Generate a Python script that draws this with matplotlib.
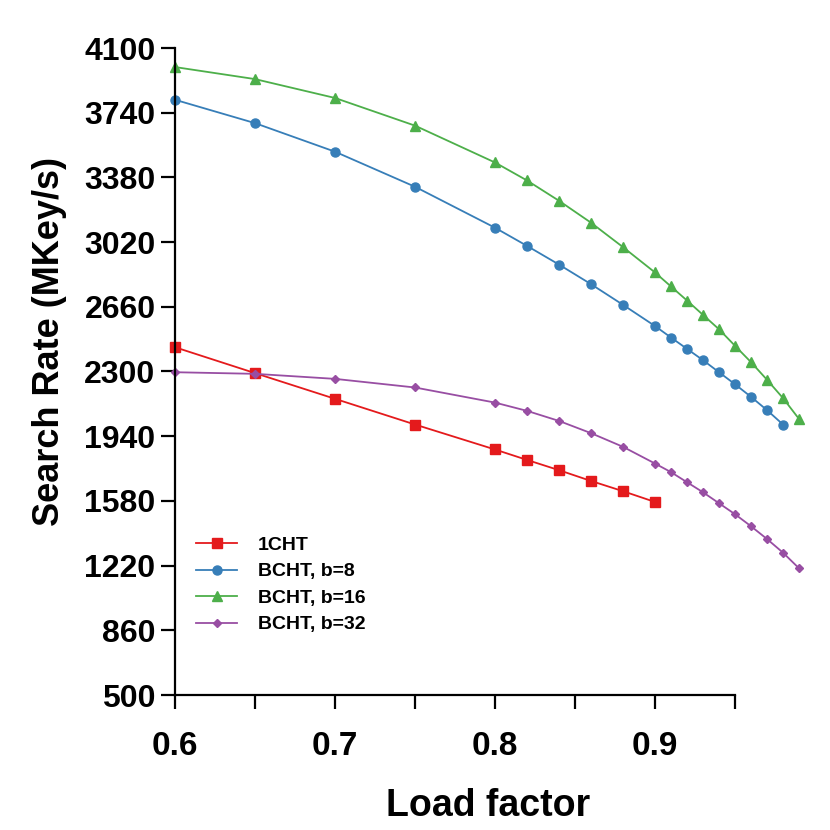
import matplotlib
matplotlib.use("Agg")
import matplotlib.pyplot as plt

plt.rcParams['font.family'] = ['Liberation Sans', 'DejaVu Sans']
plt.rcParams['font.weight'] = 'bold'

x_short = [0.6, 0.65, 0.7, 0.75, 0.8, 0.82, 0.84, 0.86, 0.88, 0.9]
x_b8 = x_short + [0.91, 0.92, 0.93, 0.94, 0.95, 0.96, 0.97, 0.98]
x_long = x_b8 + [0.99]

y_1cht = [2435, 2291, 2148, 2005, 1866, 1808, 1751, 1691, 1634, 1574]
y_b8 = [3812, 3682, 3523, 3328, 3100, 2999, 2895, 2786, 2671, 2553,
        2489, 2426, 2363, 2296, 2229, 2159, 2085, 2005]
y_b16 = [3994, 3927, 3822, 3668, 3463, 3363, 3250, 3128, 2992, 2851,
         2773, 2695, 2615, 2535, 2443, 2352, 2254, 2152, 2036]
y_b32 = [2296, 2287, 2259, 2211, 2127, 2081, 2025, 1957, 1881, 1788,
         1740, 1684, 1628, 1567, 1506, 1439, 1368, 1292, 1205]

labels = ['1CHT', 'BCHT, b=8', 'BCHT, b=16', 'BCHT, b=32']
colors = ['#e41a1c', '#377eb8', '#4daf4a', '#984ea3']

yticks = [500, 860, 1220, 1580, 1940, 2300, 2660, 3020, 3380, 3740, 4100]
xticks = [0.6, 0.65, 0.7, 0.75, 0.8, 0.85, 0.9, 0.95]
xticklabels = ['0.6', '', '0.7', '', '0.8', '', '0.9', '']

fig = plt.figure(figsize=(8.3, 8.3), dpi=100)
ax = fig.add_axes([175/830, 1-695/830, 640/830, (695-48)/830])

ax.plot(x_short, y_1cht, color=colors[0], marker='s', ms=6.5, lw=1.3, label=labels[0], clip_on=False)
ax.plot(x_b8, y_b8, color=colors[1], marker='o', ms=6.5, lw=1.3, label=labels[1], clip_on=False)
ax.plot(x_long, y_b16, color=colors[2], marker='^', ms=7.5, lw=1.3, label=labels[2], clip_on=False)
ax.plot(x_long, y_b32, color=colors[3], marker='D', ms=4, lw=1.3, label=labels[3], clip_on=False)

ax.set_xlim(0.6, 1.0)
ax.set_ylim(500, 4100)
ax.set_yticks(yticks)
ax.set_xticks(xticks)
ax.set_xticklabels(xticklabels)
ax.spines['top'].set_visible(False)
ax.spines['right'].set_visible(False)
ax.spines['bottom'].set_bounds(0.6, 0.95)
for s in ['left', 'bottom']:
    ax.spines[s].set_linewidth(1.6)
ax.tick_params(axis='both', length=10, width=1.6, direction='out')
ax.tick_params(axis='y', labelsize=23, pad=4)
ax.tick_params(axis='x', labelsize=24, pad=16)
for t in ax.get_xticklabels() + ax.get_yticklabels():
    t.set_fontweight('bold')

ax.set_ylabel('Search Rate (MKey/s)', fontsize=26, fontweight='bold')
ax.yaxis.set_label_coords(-0.169, 0.5456)
ax.set_xlabel('Load factor', fontsize=27, fontweight='bold')
ax.xaxis.set_label_coords(0.49, -0.1437)

leg = ax.legend(loc='upper left', bbox_to_anchor=(0.033, 0.2455), frameon=False,
                prop={'size': 14, 'weight': 'bold'}, handlelength=2.1,
                labelspacing=0.46, handletextpad=1.08, borderpad=0, borderaxespad=0)

fig.savefig('out.png', dpi=100)
